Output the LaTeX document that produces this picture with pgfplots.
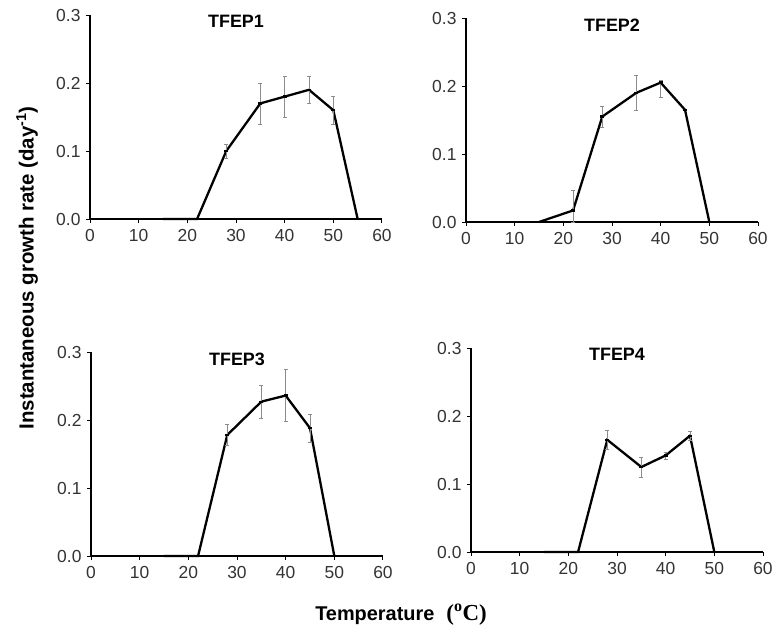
\documentclass[border=0pt]{standalone}
\usepackage{pgfplots}
\usepackage{pgfplotstable}
\pgfplotsset{compat=1.18}
\usepackage{fontspec}
\setmainfont{Liberation Sans}
\newfontfamily\serifb{Liberation Serif}

% temperature, growth rate, error (up, down)
\pgfplotstableread{
x y ep em
15 0 0 0
22 0 0 0
28 0.100 0.010 0.010
35 0.170 0.030 0.030
40 0.180 0.030 0.030
45 0.190 0.020 0.020
50 0.160 0.020 0.020
55 0 0 0
}\tfepA
\pgfplotstableread{
x y ep em
15 0 0 0
22 0.017 0.030 0.017
28 0.155 0.015 0.015
35 0.190 0.026 0.026
40 0.205 0.004 0.021
45 0.165 0 0
50 0 0 0
}\tfepB
\pgfplotstableread{
x y ep em
15 0 0 0
22 0 0 0
28 0.178 0.015 0.015
35 0.227 0.024 0.024
40 0.236 0.038 0.038
45 0.188 0.021 0.021
50 0 0 0
}\tfepC
\pgfplotstableread{
x y ep em
15 0 0 0
22 0 0 0
28 0.165 0.014 0.014
35 0.125 0.015 0.015
40 0.142 0.005 0.005
45 0.171 0.007 0.007
50 0 0 0
}\tfepD

\pgfplotsset{
  panel/.style={
    scale only axis, width=292bp, height=204bp,
    anchor=south west,
    xmin=0, xmax=60, ymin=0, ymax=0.3,
    axis lines*=left,
    xtick={0,10,...,60}, ytick={0,0.1,0.2,0.3},
    tick align=outside, major tick length=4bp,
    /pgf/number format/assume math mode=true,
    tick label style={font=\fontsize{17.5}{17.5}\selectfont, text=black!80},
    xticklabel style={yshift=-3bp},
    yticklabel style={xshift=-2bp, /pgf/number format/.cd, fixed, fixed zerofill, precision=1},
    axis line style={black, line width=1.1pt},
    every tick/.style={black, line width=1pt},
    title style={at={(0.5,0.985)}, anchor=north, font=\bfseries\fontsize{18}{18}\selectfont},
    clip=false,
  },
  curve/.style={black, line width=2.3pt, mark=-, mark size=2pt,
    error bars/.cd, y dir=both, y explicit,
    error bar style={black!45, line width=0.6pt},
    error mark options={black!45, rotate=90, mark size=2pt, line width=0.6pt}},
}

\begin{document}
\begin{tikzpicture}
\useasboundingbox (0bp,0bp) rectangle (776bp,-630bp);

\begin{axis}[panel, at={(90bp,-219bp)}, title={TFEP1}]
  \addplot[curve] table[x=x, y=y, y error plus=ep, y error minus=em] {\tfepA};
\end{axis}

\begin{axis}[panel, at={(466bp,-222bp)}, title={TFEP2}]
  \addplot[curve] table[x=x, y=y, y error plus=ep, y error minus=em] {\tfepB};
\end{axis}

\begin{axis}[panel, at={(91bp,-556bp)}, title={TFEP3}]
  \addplot[curve] table[x=x, y=y, y error plus=ep, y error minus=em] {\tfepC};
\end{axis}

\begin{axis}[panel, at={(471bp,-552bp)}, title={TFEP4}]
  \addplot[curve] table[x=x, y=y, y error plus=ep, y error minus=em] {\tfepD};
\end{axis}

\node[rotate=90, font=\bfseries\fontsize{20.5}{20.5}\selectfont] at (27bp,-268bp)
  {Instantaneous growth rate (day\textsuperscript{-1})};
\node[font=\bfseries\fontsize{20}{20}\selectfont] at (401bp,-615bp)
  {Temperature\hspace{0.6em}{\serifb\bfseries\fontsize{23}{23}\selectfont(\textsuperscript{o}C)}};
\end{tikzpicture}
\end{document}
